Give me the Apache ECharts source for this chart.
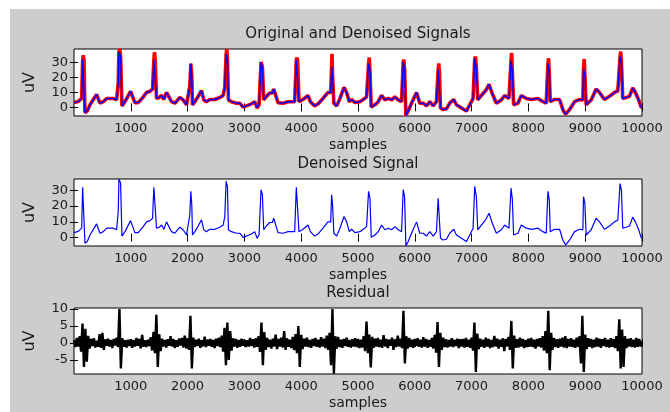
<!DOCTYPE html>
<html>
<head>
<meta charset="utf-8">
<script src="https://cdn.jsdelivr.net/npm/echarts@6/dist/echarts.min.js"></script>
<style>
html, body { margin: 0; padding: 0; background: #fff; }
#chart { position: absolute; left: 10px; top: 9px; width: 660px; height: 403px; background: #cdcdcd; }
</style>
</head>
<body>
<div id="chart"></div>
<script>
// denoised signal, breakpoints (sample, uV)
const denX = [0, 76, 135, 152, 176, 193, 234, 281, 369, 398, 457, 516, 574, 691, 750, 779, 791, 820, 844, 897,
  996, 1031, 1072, 1131, 1219, 1277, 1336, 1383, 1406, 1430, 1453, 1500, 1541, 1582, 1629, 1658, 1717, 1776, 1863, 1922,
  1981, 2010, 2039, 2057, 2074, 2086, 2127, 2186, 2244, 2285, 2332, 2391, 2479, 2567, 2625, 2655, 2678, 2701, 2719, 2772,
  2860, 2918, 2977, 3035, 3123, 3182, 3223, 3258, 3293, 3317, 3340, 3387, 3446, 3493, 3516, 3551, 3592, 3680, 3768, 3885,
  3914, 3938, 3961, 4032, 4120, 4161, 4237, 4295, 4383, 4471, 4500, 4520, 4535, 4552, 4575, 4624, 4683, 4753, 4800, 4847,
  4888, 4946, 5034, 5093, 5151, 5186, 5210, 5233, 5298, 5356, 5415, 5474, 5532, 5591, 5649, 5708, 5767, 5796, 5820, 5843,
  5884, 5942, 6030, 6088, 6147, 6206, 6264, 6323, 6381, 6411, 6434, 6452, 6499, 6557, 6615, 6686, 6733, 6821, 6909, 6967,
  7026, 7055, 7084, 7108, 7172, 7248, 7307, 7365, 7436, 7524, 7582, 7658, 7694, 7717, 7740, 7816, 7875, 7963, 8051, 8168,
  8256, 8314, 8344, 8367, 8385, 8461, 8549, 8607, 8654, 8724, 8812, 8900, 8959, 8970, 8994, 9017, 9105, 9193, 9251, 9339,
  9427, 9515, 9574, 9614, 9638, 9661, 9720, 9779, 9837, 9884, 9942, 9983, 10000];
const denV = [3.2, 4.0, 6.0, 32, 32, -3.6, -2.5, 1.7, 7.0, 8.7, 2.8, 3.8, 6.0, 6.0, 5.0, 16.6, 37.2, 34.7, 1.0, 3.8,
  10.8, 11.3, 3.2, 3.2, 7.0, 10.0, 10.8, 12.3, 32, 32, 6.0, 6.6, 8.0, 5.3, 10.0, 10.0, 3.8, 2.8, 6.6, 5.0,
  1.7, 1.7, 14.5, 29.4, 20.9, 1.7, 3.8, 7.4, 11.3, 5.0, 3.8, 5.3, 5.3, 6.6, 8.0, 13.4, 35.7, 32.6, 5.0, 3.8,
  2.8, 2.8, 0.2, 1.0, 2.3, 3.8, -0.4, 1.7, 30.4, 27.2, 5.0, 7.4, 9.6, 9.6, 12.3, 11.3, 3.2, 2.8, 3.8, 3.8,
  32, 30.9, 3.8, 5.3, 8.0, 3.8, 1.0, 2.3, 6.0, 10.0, 9.0, 10.0, 27.2, 21, 2.8, 1.0, 6.0, 13.4, 10.0, 3.8,
  5.3, 3.2, 3.8, 5.3, 7.0, 29.4, 25, 0.2, 1.7, 3.8, 8.0, 5.0, 6.0, 5.0, 7.0, 5.0, 3.8, 30.4, 26, -5.2,
  -2.5, 2.8, 10.0, 2.8, 2.8, 1.0, 3.8, 1.0, 3.8, 25, 24, -0.4, -1.5, -1.0, 2.8, 5.3, 1.7, -0.4, -2.5, 1.7,
  6.0, 32.6, 26, 5.0, 8.0, 11.3, 15.5, 9.1, 2.8, 5.0, 8.0, 6.0, 31.5, 24.5, 1.7, 2.8, 8.0, 6.0, 5.3, 6.0,
  3.8, 2.8, 29.4, 24, 3.8, 5.3, 5.3, -1.5, -4.7, -1.5, 3.8, 5.3, 5.0, 26, 22, 1.7, 5.0, 12.3, 10.0, 5.3,
  7.4, 10.0, 11.0, 34.3, 30, 6.0, 6.6, 7.4, 13.0, 10.0, 5.0, 0.2, 0.0];

// R-peak tips of the original (red) signal
const beatX = [164, 805, 1418, 2065, 2690, 3305, 3926, 4543, 5198, 5808, 6422, 7070, 7705, 8355, 8982, 9626];
const origTip = [35, 39.2, 37, 30.5, 39.2, 31.5, 33.5, 36, 33.5, 32, 29.5, 34, 36.5, 33, 32.5, 37.5];

// residual, one value every 25 samples
const resStep = 25;
const resV = [
  0.8, -1.2, 1.5, -1.0, 2.0, -2.5, 5.7, -7.0, 4.2, -5.5, 2.1, -1.6, 1.2, -0.9, 1.4, -1.3, 0.7, -1.1, 2.6, -1.4,
  3.0, -2.0, 1.1, -0.8, 1.3, -1.0, 0.9, -1.5, 1.2, -0.7, 1.6, -1.2, 10.0, -7.5, 1.4, -1.1, 0.8, -1.3, 1.0, -0.9,
  1.1, -1.4, 0.9, -1.0, 1.5, -0.8, 1.2, -1.6, 2.4, -1.1, 0.8, -1.2, 1.0, -0.9, 1.7, -2.2, 3.3, -3.0, 8.3, -7.0,
  2.6, -2.4, 1.3, -1.0, 0.9, -1.3, 1.1, -0.8, 2.0, -1.0, 1.2, -1.5, 0.8, -1.1, 1.3, -0.7, 1.5, -1.3, 2.2, -1.6,
  1.4, -2.0, 8.0, -7.5, 1.6, -1.2, 1.0, -0.9, 1.3, -1.4, 0.8, -1.0, 1.9, -1.2, 1.0, -0.8, 1.2, -1.1, 0.9, -1.5,
  1.3, -0.9, 1.6, -1.2, 2.2, -2.5, 4.5, -6.5, 6.0, -5.0, 3.5, -2.2, 1.4, -1.0, 1.2, -1.4, 0.9, -1.1, 1.3, -0.8,
  1.0, -1.2, 0.8, -1.0, 1.5, -0.9, 1.1, -1.3, 1.4, -1.1, 2.0, -2.6, 6.0, -6.5, 3.2, -2.0, 1.5, -1.2, 1.0, -1.6,
  1.3, -1.0, 2.5, -1.8, 1.2, -1.0, 1.6, -1.3, 3.5, -2.0, 1.4, -1.1, 1.0, -1.5, 1.8, -2.1, 2.6, -3.0, 5.0, -7.0,
  2.4, -1.8, 1.3, -1.0, 1.6, -1.2, 0.9, -1.4, 1.2, -0.9, 1.5, -1.1, 1.0, -1.3, 1.7, -1.0, 1.3, -1.5, 2.2, -2.0,
  3.0, -6.5, 10.0, -9.0, 2.0, -1.6, 1.8, -1.2, 1.0, -1.4, 1.2, -0.9, 1.6, -1.1, 0.9, -1.3, 1.1, -1.0, 1.4, -1.2,
  1.2, -1.5, 1.0, -1.3, 2.0, -2.4, 6.3, -3.0, 2.5, -7.2, 1.8, -1.4, 1.3, -1.0, 1.5, -1.2, 1.0, -1.4, 2.3, -1.0,
  1.2, -1.5, 1.0, -0.8, 1.6, -2.0, 1.1, -1.2, 2.2, -1.0, 1.3, -1.5, 9.5, -6.0, 2.0, -1.6, 1.5, -1.2, 1.0, -1.4,
  1.2, -0.9, 1.4, -1.1, 1.0, -1.3, 1.7, -1.0, 1.2, -1.4, 0.9, -1.1, 1.5, -1.6, 2.4, -2.8, 6.2, -7.0, 3.0, -2.0,
  1.6, -1.2, 1.1, -1.3, 0.9, -1.0, 1.4, -1.2, 1.0, -0.9, 1.3, -1.5, 1.1, -1.0, 1.2, -1.3, 1.5, -1.1, 1.0, -1.4,
  1.6, -2.2, 6.0, -8.5, 2.8, -1.8, 1.3, -1.1, 1.0, -1.4, 1.6, -1.0, 1.2, -1.5, 0.9, -1.2, 2.1, -1.0, 1.3, -1.6,
  1.0, -1.1, 1.4, -2.4, 1.2, -1.0, 1.8, -2.0, 6.5, -7.5, 2.2, -1.4, 1.1, -1.3, 1.6, -1.0, 1.2, -1.5, 0.9, -1.2,
  1.3, -1.0, 1.5, -1.2, 1.0, -1.6, 1.2, -1.0, 1.4, -1.3, 2.0, -2.2, 3.5, -3.0, 9.5, -8.0, 3.0, -2.0, 1.5, -1.2,
  1.1, -1.4, 1.3, -1.0, 1.6, -1.3, 2.0, -1.5, 1.2, -1.0, 1.4, -1.2, 1.0, -1.4, 1.6, -1.1, 2.0, -6.0, 8.0, -8.5,
  2.5, -1.8, 1.4, -1.1, 1.2, -1.5, 1.0, -1.2, 1.6, -1.0, 1.3, -1.4, 1.1, -0.9, 1.5, -1.2, 1.0, -1.3, 1.4, -1.1,
  1.2, -1.5, 2.0, -2.4, 7.0, -7.5, 4.0, -7.0, 2.0, -1.5, 1.2, -1.0, 1.4, -1.2, 1.0, -1.3, 1.5, -1.1, 1.2, -1.0,
  0.6];

const xTicks = [1000, 2000, 3000, 4000, 5000, 6000, 7000, 8000, 9000, 10000];
const yTicks = [[0, 10, 20, 30], [0, 10, 20, 30], [-5, 0, 5, 10]];
const yRange = [[-5.8, 39.2], [-5.3, 37.2], [-9.1, 10.3]];
const titles = ['Original and Denoised Signals', 'Denoised Signal', 'Residual'];

const chart = echarts.init(document.getElementById('chart'));

const denoised = denX.map((x, i) => [x, denV[i]]);
const original = denoised.concat(beatX.map((x, i) => [x, origTip[i]])).sort((a, b) => a[0] - b[0]);
const residual = resV.map((v, i) => [i * resStep, v]);

const gridTops = [40, 170, 299];
const gridHeights = [67, 67, 66];
const font = 'DejaVu Sans';
const plain = (v) => String(v);

const grids = gridTops.map((t, i) => ({
  left: 64, width: 568, top: t, height: gridHeights[i],
  show: true, backgroundColor: '#fff', borderColor: '#000', borderWidth: 1
}));

const xAxes = [];
const yAxes = [];
for (let g = 0; g < 3; g++) {
  ['bottom', 'top'].forEach((pos) => {
    xAxes.push({
      type: 'value', gridIndex: g, position: pos, min: 0, max: 10000,
      axisLine: { show: false }, splitLine: { show: false },
      axisTick: { show: true, inside: true, length: 4, customValues: xTicks, lineStyle: { color: '#000' } },
      axisLabel: { show: pos === 'bottom', customValues: xTicks, formatter: plain, margin: 6,
        fontFamily: font, fontSize: 13, color: '#1a1a1a' }
    });
  });
  ['left', 'right'].forEach((pos) => {
    yAxes.push({
      type: 'value', gridIndex: g, position: pos, min: yRange[g][0], max: yRange[g][1],
      axisLine: { show: false }, splitLine: { show: false },
      axisTick: { show: true, inside: true, length: 4, customValues: yTicks[g], lineStyle: { color: '#000' } },
      axisLabel: { show: pos === 'left', customValues: yTicks[g], formatter: plain, margin: 6,
        fontFamily: font, fontSize: 13, color: '#1a1a1a' }
    });
  });
}

const lineSeries = (data, g, color, width) => ({
  type: 'line', data: data, xAxisIndex: g * 2, yAxisIndex: g * 2,
  showSymbol: false, symbol: 'none', animation: false,
  lineStyle: { color: color, width: width }
});

const texts = [];
titles.forEach((t, g) => {
  texts.push({ type: 'text', x: 348, y: gridTops[g] - 14.5,
    style: { text: t, font: '15px "DejaVu Sans"', fill: '#1a1a1a', align: 'center', verticalAlign: 'middle' } });
  texts.push({ type: 'text', x: 348, y: gridTops[g] + gridHeights[g] + 29,
    style: { text: 'samples', font: '14px "DejaVu Sans"', fill: '#1a1a1a', align: 'center', verticalAlign: 'middle' } });
  texts.push({ type: 'text', x: 20, y: gridTops[g] + gridHeights[g] / 2, rotation: Math.PI / 2,
    style: { text: 'uV', font: '16px "DejaVu Sans"', fill: '#1a1a1a', align: 'center', verticalAlign: 'middle' } });
});

chart.setOption({
  animation: false,
  grid: grids,
  xAxis: xAxes,
  yAxis: yAxes,
  graphic: texts,
  series: [
    lineSeries(original, 0, '#ff0000', 3.6),
    lineSeries(denoised, 0, '#0000ff', 1.4),
    lineSeries(denoised, 1, '#0000ff', 1.2),
    lineSeries(residual, 2, '#000000', 2.4)
  ]
});
</script>
</body>
</html>
